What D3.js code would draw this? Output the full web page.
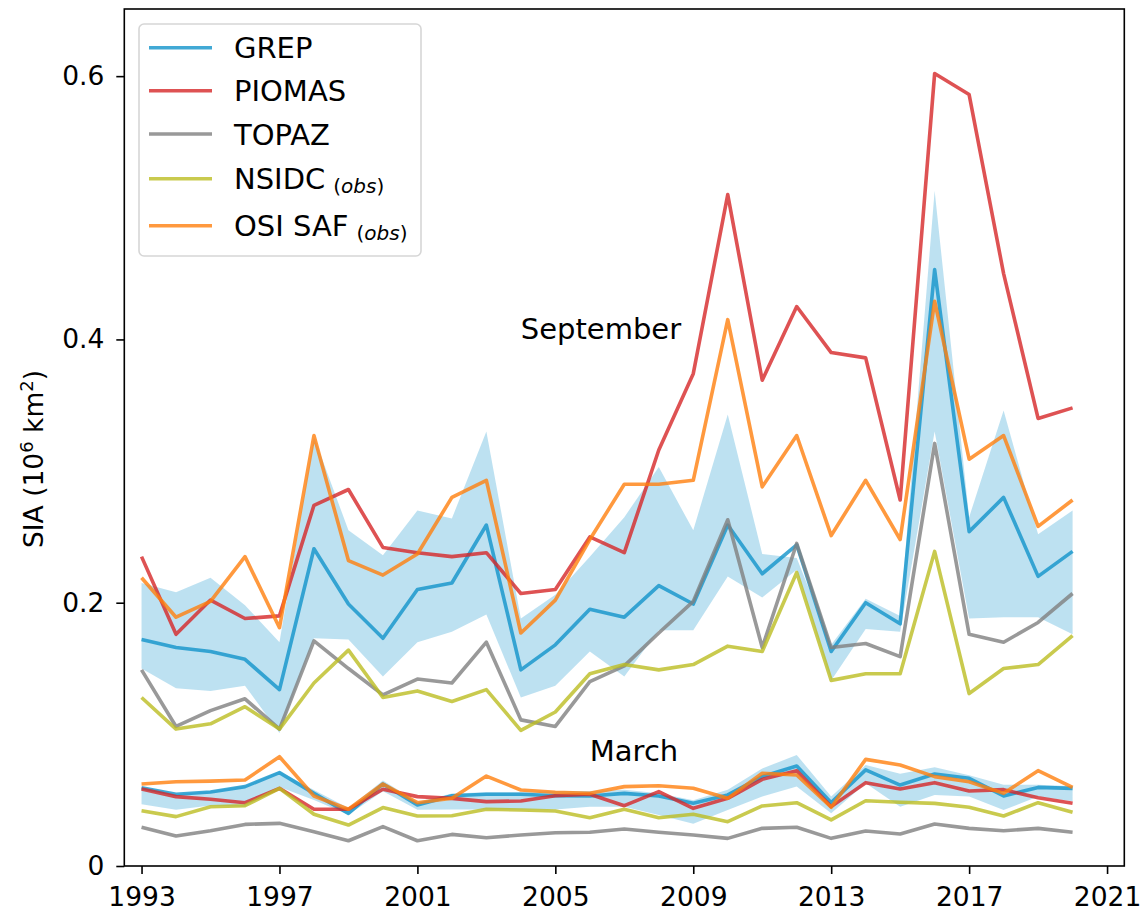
<!DOCTYPE html>
<html>
<head>
<meta charset="utf-8">
<script src="https://cdn.jsdelivr.net/npm/d3@7"></script>
<style>
  body { margin: 0; background: #fff; }
  svg { display: block; font-family: "DejaVu Sans", sans-serif; }
</style>
</head>
<body>
<script>
// years 1993..2020
const years = [1993,1994,1995,1996,1997,1998,1999,2000,2001,2002,2003,2004,2005,2006,
               2007,2008,2009,2010,2011,2012,2013,2014,2015,2016,2017,2018,2019,2020]

// September
const sepGREP   = [0.172,0.166,0.163,0.157,0.134,0.241,0.199,0.173,0.210,0.215,0.259,0.149,0.168,0.195,
                   0.189,0.213,0.199,0.259,0.222,0.244,0.163,0.200,0.184,0.453,0.254,0.280,0.220,0.239]
const sepGREPlo = [0.150,0.135,0.133,0.137,0.101,0.173,0.172,0.144,0.170,0.178,0.191,0.128,0.137,0.163,
                   0.144,0.179,0.179,0.220,0.204,0.225,0.141,0.180,0.178,0.330,0.188,0.189,0.189,0.176]
const sepGREPhi = [0.215,0.208,0.219,0.198,0.170,0.326,0.255,0.236,0.270,0.264,0.330,0.188,0.206,0.235,
                   0.265,0.303,0.255,0.343,0.237,0.234,0.168,0.203,0.190,0.513,0.265,0.346,0.252,0.270]
const sepPIOMAS = [0.235,0.176,0.202,0.188,0.190,0.274,0.286,0.242,0.238,0.235,0.238,0.207,0.210,0.250,
                   0.238,0.316,0.374,0.510,0.369,0.425,0.390,0.386,0.278,0.602,0.586,0.450,0.340,0.348]
const sepTOPAZ  = [0.149,0.106,0.118,0.127,0.104,0.171,0.150,0.130,0.142,0.139,0.170,0.111,0.106,0.140,
                   0.152,0.177,0.201,0.263,0.166,0.245,0.166,0.169,0.159,0.321,0.176,0.170,0.185,0.207]
const sepNSIDC  = [0.128,0.104,0.108,0.121,0.104,0.139,0.164,0.128,0.133,0.125,0.134,0.103,0.117,0.146,
                   0.153,0.149,0.153,0.167,0.163,0.223,0.141,0.146,0.146,0.239,0.131,0.150,0.153,0.175]
const sepOSISAF = [0.219,0.189,0.201,0.235,0.181,0.327,0.232,0.221,0.237,0.280,0.293,0.177,0.202,0.248,
                   0.290,0.290,0.293,0.415,0.288,0.327,0.251,0.293,0.248,0.429,0.309,0.327,0.258,0.278]

// March
const marGREP   = [0.0595,0.0545,0.0562,0.0603,0.0709,0.0552,0.0400,0.0623,0.0463,0.0534,0.0545,0.0545,0.0534,0.0532,
                   0.0552,0.0532,0.0476,0.0540,0.0679,0.0760,0.0481,0.0730,0.0615,0.0699,0.0666,0.0532,0.0597,0.0590]
const marGREPlo = [0.0469,0.0428,0.0460,0.0450,0.0600,0.0502,0.0390,0.0567,0.0428,0.0430,0.0430,0.0430,0.0430,0.0450,
                   0.0451,0.0387,0.0320,0.0425,0.0527,0.0603,0.0400,0.0628,0.0451,0.0540,0.0527,0.0425,0.0527,0.0491]
const marGREPhi = [0.0600,0.0545,0.0570,0.0610,0.0720,0.0577,0.0440,0.0650,0.0486,0.0550,0.0560,0.0560,0.0570,0.0570,
                   0.0580,0.0552,0.0500,0.0580,0.0740,0.0844,0.0527,0.0767,0.0700,0.0750,0.0690,0.0618,0.0618,0.0605]
const marPIOMAS = [0.0585,0.0527,0.0507,0.0481,0.0590,0.0431,0.0431,0.0583,0.0527,0.0514,0.0489,0.0494,0.0534,0.0545,
                   0.0458,0.0565,0.0438,0.0514,0.0658,0.0724,0.0451,0.0633,0.0585,0.0633,0.0570,0.0580,0.0519,0.0476]
const marTOPAZ  = [0.0294,0.0228,0.0268,0.0316,0.0324,0.0261,0.0192,0.0299,0.0192,0.0240,0.0215,0.0235,0.0253,0.0256,
                   0.0281,0.0256,0.0235,0.0210,0.0286,0.0294,0.0210,0.0266,0.0243,0.0319,0.0286,0.0268,0.0286,0.0256]
const marNSIDC  = [0.0420,0.0375,0.0450,0.0458,0.0590,0.0393,0.0311,0.0444,0.0380,0.0382,0.0431,0.0425,0.0418,0.0367,
                   0.0431,0.0367,0.0393,0.0337,0.0456,0.0481,0.0350,0.0496,0.0484,0.0476,0.0446,0.0380,0.0481,0.0408]
const marOSISAF = [0.0623,0.0640,0.0645,0.0653,0.0830,0.0532,0.0431,0.0623,0.0481,0.0514,0.0683,0.0577,0.0560,0.0552,
                   0.0603,0.0610,0.0590,0.0514,0.0704,0.0691,0.0446,0.0810,0.0767,0.0679,0.0640,0.0552,0.0724,0.0597]

const xTicks = [1993,1997,2001,2005,2009,2013,2017,2021]
const yTicks = [0,0.2,0.4,0.6]

const series = [
  {name:"GREP",    obs:false, color:"#1194cb", sep:sepGREP,   mar:marGREP},
  {name:"PIOMAS",  obs:false, color:"#d62728", sep:sepPIOMAS, mar:marPIOMAS},
  {name:"TOPAZ",   obs:false, color:"#7f7f7f", sep:sepTOPAZ,  mar:marTOPAZ},
  {name:"NSIDC",   obs:true,  color:"#bcbd22", sep:sepNSIDC,  mar:marNSIDC},
  {name:"OSI SAF", obs:true,  color:"#ff7f0e", sep:sepOSISAF, mar:marOSISAF}
]

const W = 1147, H = 914
const margin = {top: 9, right: 22.7, bottom: 48, left: 124.3}
const LW = 3.6

const svg = d3.select("body").append("svg").attr("width", W).attr("height", H)

const x = d3.scaleLinear().domain([1992.5, 2021.5]).range([margin.left, W - margin.right])
const y = d3.scaleLinear().domain([0, 0.651]).range([H - margin.bottom, margin.top])

// spread bands
const area = (lo, hi) => d3.area()
  .x((d, i) => x(years[i]))
  .y0((d, i) => y(lo[i]))
  .y1((d, i) => y(hi[i]))(years)

svg.append("path").attr("d", area(sepGREPlo, sepGREPhi))
  .attr("fill", "#1194cb").attr("fill-opacity", 0.28)
svg.append("path").attr("d", area(marGREPlo, marGREPhi))
  .attr("fill", "#1194cb").attr("fill-opacity", 0.28)

const line = d3.line().x((d, i) => x(years[i])).y(d => y(d))

series.forEach(s => {
  [s.sep, s.mar].forEach(vals => {
    svg.append("path").attr("d", line(vals))
      .attr("fill", "none")
      .attr("stroke", s.color).attr("stroke-opacity", 0.8)
      .attr("stroke-width", LW)
      .attr("stroke-linejoin", "round").attr("stroke-linecap", "butt")
  })
})

// month labels
svg.append("text").attr("x", x(2004)).attr("y", y(0.4))
  .attr("font-size", 29).text("September")
svg.append("text").attr("x", x(2006)).attr("y", y(0.08))
  .attr("font-size", 29).text("March")

// axes
const xAxis = svg.append("g")
  .attr("transform", `translate(0,${H - margin.bottom})`)
  .call(d3.axisBottom(x).tickValues(xTicks).tickFormat(d3.format("d"))
    .tickSize(8).tickSizeOuter(0).tickPadding(13.5))
const yAxis = svg.append("g")
  .attr("transform", `translate(${margin.left},0)`)
  .call(d3.axisLeft(y).tickValues(yTicks).tickFormat(d => d === 0 ? "0" : d3.format(".1f")(d))
    .tickSize(8).tickSizeOuter(0).tickPadding(12))

;[xAxis, yAxis].forEach(g => {
  g.select(".domain").remove()
  g.selectAll(".tick line").attr("stroke", "#000").attr("stroke-width", 1.6)
  g.selectAll(".tick text").attr("font-size", 26.5).attr("fill", "#000")
    .attr("font-family", "DejaVu Sans")
})

svg.append("rect")
  .attr("x", margin.left).attr("y", margin.top)
  .attr("width", W - margin.left - margin.right)
  .attr("height", H - margin.top - margin.bottom)
  .attr("fill", "none").attr("stroke", "#000").attr("stroke-width", 1.6)

// y label
const yl = svg.append("text")
  .attr("transform", "translate(43,459) rotate(-90)")
  .attr("text-anchor", "middle").attr("font-size", 26.5)
yl.append("tspan").text("SIA (10")
yl.append("tspan").attr("font-size", 18).attr("dy", -10).text("6")
yl.append("tspan").attr("dy", 10).text(" km")
yl.append("tspan").attr("font-size", 18).attr("dy", -10).text("2")
yl.append("tspan").attr("dy", 10).text(")")

// legend
const leg = svg.append("g")
leg.append("rect").attr("x", 139).attr("y", 24).attr("width", 282).attr("height", 232)
  .attr("rx", 5).attr("fill", "#fff").attr("fill-opacity", 0.8)
  .attr("stroke", "#d6d6d6").attr("stroke-width", 1.6)
const rowY = [47.7, 90.7, 134, 178.7, 225.7]
series.forEach((s, i) => {
  leg.append("line").attr("x1", 149).attr("x2", 212)
    .attr("y1", rowY[i]).attr("y2", rowY[i])
    .attr("stroke", s.color).attr("stroke-opacity", 0.8).attr("stroke-width", LW)
  const t = leg.append("text").attr("x", 234).attr("y", rowY[i] + 10.6).attr("font-size", 29)
  t.append("tspan").text(s.name)
  if (s.obs) {
    t.append("tspan").attr("dx", 8).attr("dy", 4).attr("font-size", 20)
      .text("(").append("tspan").attr("font-style", "italic").text("obs")
    t.append("tspan").attr("font-size", 20).text(")")
  }
})
</script>
</body>
</html>
